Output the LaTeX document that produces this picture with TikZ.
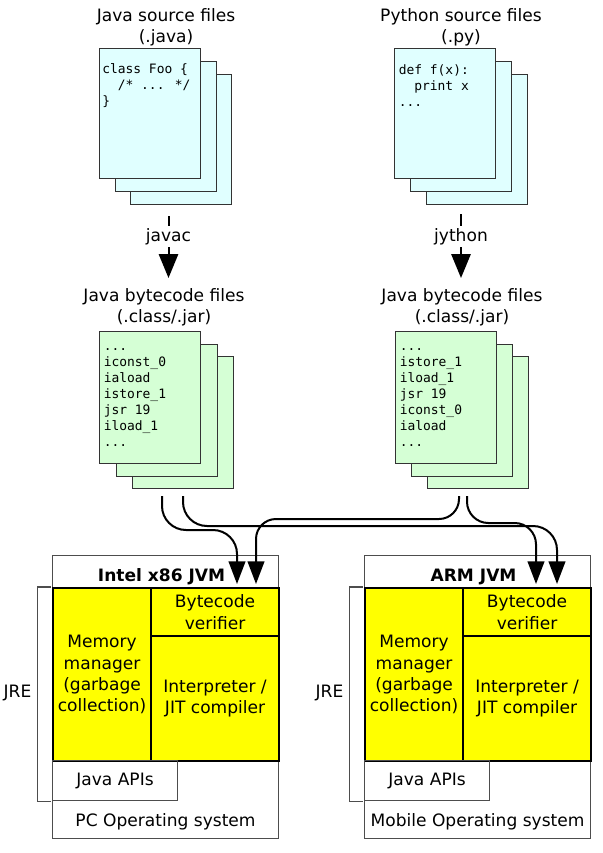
\documentclass[tikz,border=0pt]{standalone}
\usepackage{fontspec}
\setmainfont{DejaVu Sans}
\newfontfamily\codefont{DejaVu Sans Mono}
\usepackage{tikz}
\usetikzlibrary{arrows.meta,positioning,calc}
\definecolor{srcfill}{HTML}{E0FFFF}
\definecolor{bcfill}{HTML}{D5FFD5}
\definecolor{jvmfill}{HTML}{FFFF00}
\definecolor{edge}{HTML}{333333}
\definecolor{frame}{HTML}{4D4D4D}

\begin{document}
\begin{tikzpicture}[x=0.75pt, y=-0.75pt,
    txt/.style={font=\fontsize{12.8}{16}\selectfont, inner sep=0pt, align=center},
    code/.style={font=\codefont\fontsize{9.7}{12.1}\selectfont, inner sep=0pt,
                 align=left, anchor=north west},
    srcpage/.style={rectangle, draw=edge, line width=0.8pt, fill=srcfill, anchor=north west,
                    minimum width=75.75pt, minimum height=97.5pt, inner sep=0pt},
    bcpage/.style={srcpage, fill=bcfill, minimum height=99pt},
    jvmbox/.style={rectangle, draw=frame, line width=0.8pt, anchor=north west,
                   minimum width=169.5pt, minimum height=212.25pt, inner sep=0pt},
    part/.style={rectangle, draw=black, line width=1.6pt, fill=jvmfill, anchor=north west,
                 inner sep=0pt, align=center, font=\fontsize{12.8}{16}\selectfont},
    apibox/.style={rectangle, draw=frame, line width=0.8pt, anchor=north west,
                   minimum width=93.75pt, minimum height=30pt, inner sep=0pt,
                   font=\fontsize{12.8}{16}\selectfont},
    compile/.style={-{Triangle[length=18pt,width=14.5pt]}, line width=1.5pt},
    flow/.style={-{Triangle[length=17pt,width=12.5pt]}, line width=1.5pt, rounded corners=16pt},
    bracket/.style={draw=frame, line width=0.8pt},
]
\useasboundingbox (0,0) rectangle (603,853);

% source files
\node[txt, anchor=north] (srcJlab) at (166,8) {Java source files\\(.java)};
\node[txt, anchor=north] (srcPlab) at (461,8) {Python source files\\(.py)};

\node[srcpage] (srcJ3) at (130,74) {};
\node[srcpage] (srcJ2) at (114.5,61) {};
\node[srcpage] (srcJ1) at (99,48) {};
\node[code] (codeJ) at ($(srcJ1.north west)+(3,14)$)
    {\strut class Foo \{\\\phantom{xx}/* ... */\\\}};

\node[srcpage] (srcP3) at (425.5,74) {};
\node[srcpage] (srcP2) at (409.5,61) {};
\node[srcpage] (srcP1) at (393.5,48) {};
\node[code] (codeP) at ($(srcP1.north west)+(5,14.7)$)
    {\strut def f(x):\\\phantom{xx}print x\\...};

% compilers
\node[txt, inner sep=1.5pt] (javac) at (168.5,236.5) {javac};
\node[txt, inner sep=1.5pt] (jython) at (461,236.5) {jython};

% bytecode files
\node[txt, anchor=north] (bcJlab) at (164,288) {Java bytecode files\\(.class/.jar)};
\node[txt, anchor=north] (bcPlab) at (462,288) {Java bytecode files\\(.class/.jar)};

\node[bcpage] (bcJ3) at (132,356) {};
\node[bcpage] (bcJ2) at (115.5,343.5) {};
\node[bcpage] (bcJ1) at (99,331) {};
\node[code] (codeBJ) at ($(bcJ1.north west)+(4.5,7.5)$)
    {\strut...\\iconst\_0\\iaload\\istore\_1\\jsr 19\\iload\_1\\...};

\node[bcpage] (bcP3) at (427,356) {};
\node[bcpage] (bcP2) at (411,343.5) {};
\node[bcpage] (bcP1) at (395,331) {};
\node[code] (codeBP) at ($(bcP1.north west)+(4.5,7.5)$)
    {\strut...\\istore\_1\\iload\_1\\jsr 19\\iconst\_0\\iaload\\...};

\draw[line width=1.5pt] ($(srcJ3.south -| javac)+(0,11)$) -- (javac.north);
\draw[compile] (javac.south) -- ($(bcJlab.north -| javac)+(0,-10)$);
\draw[line width=1.5pt] ($(srcP3.south -| jython)+(0,9)$) -- (jython.north);
\draw[compile] (jython.south) -- ($(bcPlab.north -| jython)+(0,-10)$);

% Intel JVM
\node[jvmbox] (jvmL) at (52,555) {};
\node[txt, font=\fontsize{12.8}{16}\selectfont\bfseries, anchor=base] (titleL)
    at ($(jvmL.north)+(-4,26)$) {Intel x86 JVM};
\node[part, minimum width=73.5pt, minimum height=129.75pt] (memL) at (52,587)
    {Memory\\manager\\(garbage\\collection)};
\node[part, minimum width=96pt, minimum height=36pt] (verL) at (150,587) {Bytecode\\verifier};
\node[part, minimum width=96pt, minimum height=93.75pt] (intL) at (150,635)
    {Interpreter /\\JIT compiler};
\node[apibox] (apiL) at (52,760) {Java APIs};
\node[txt, anchor=base] (osL) at ($(jvmL.south)+(0,-13)$) {PC Operating system};
\draw[bracket] ([xshift=-1pt]memL.north west) -- ++(-13.5,0) |- ([xshift=-1pt]apiL.south west);
\node[txt, anchor=base] (jreL) at (17.5,697) {JRE};

% ARM JVM
\node[jvmbox] (jvmR) at (364,555) {};
\node[txt, font=\fontsize{12.8}{16}\selectfont\bfseries, anchor=base] (titleR)
    at ($(jvmR.north)+(-4,26)$) {ARM JVM};
\node[part, minimum width=73.5pt, minimum height=129.75pt] (memR) at (364,587)
    {Memory\\manager\\(garbage\\collection)};
\node[part, minimum width=96pt, minimum height=36pt] (verR) at (462,587) {Bytecode\\verifier};
\node[part, minimum width=96pt, minimum height=93.75pt] (intR) at (462,635)
    {Interpreter /\\JIT compiler};
\node[apibox] (apiR) at (364,760) {Java APIs};
\node[txt, anchor=base] (osR) at ($(jvmR.south)+(0,-13)$) {Mobile Operating system};
\draw[bracket] ([xshift=-1pt]memR.north west) -- ++(-13.5,0) |- ([xshift=-1pt]apiR.south west);
\node[txt, anchor=base] (jreR) at (329.5,697) {JRE};

% bytecode to both JVMs
\coordinate (inL1) at ($(verL.north west)+(87,-3)$);
\coordinate (inL2) at ($(verL.north west)+(106,-3)$);
\coordinate (inR1) at ($(verR.north west)+(74,-3)$);
\coordinate (inR2) at ($(verR.north west)+(95,-3)$);

\draw[flow, rounded corners=18pt] ($(bcJ3.south west)+(30,7)$) |- ($(inL1)+(0,-54)$) -- (inL1);
\draw[flow, rounded corners=18pt] ($(bcJ3.south west)+(51,7)$) |- ($(inR2)+(0,-58)$) -- (inR2);
\draw[flow, rounded corners=15pt] ($(bcP3.south west)+(32,7)$) |- ($(inL2)+(0,-65)$) -- (inL2);
\draw[flow] ($(bcP3.south west)+(40,7)$) |- ($(inR1)+(0,-61)$) -- (inR1);

\end{tikzpicture}
\end{document}
